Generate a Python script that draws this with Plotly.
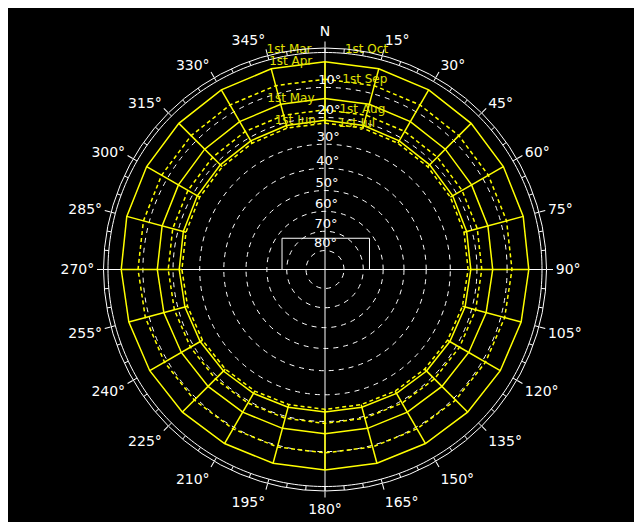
import numpy as np
import plotly.graph_objects as go

# ---------------- data ----------------
# hourly sun positions: azimuth (deg clockwise from N)
hour_az = [0, 15, 30, 45, 60, 75, 90, 105, 120, 135, 150, 165,
           180, 195, 210, 225, 240, 255, 270, 285, 300, 315, 330, 345]

# solar altitude (deg) on the 1st of each month at those azimuths
alt_apr = [2.5, 2.5, 2.6, 2.8, 3.0, 3.2, 3.6, 3.8, 4.0, 4.2, 4.4, 4.5,
           4.5, 4.5, 4.4, 4.2, 4.0, 3.8, 3.6, 3.2, 3.0, 2.8, 2.6, 2.5]
alt_may = [13.5, 13.5, 13.6, 13.8, 14.1, 14.3, 14.6, 14.9, 15.2, 15.4, 15.6, 15.7,
           15.8, 15.7, 15.6, 15.4, 15.2, 14.9, 14.6, 14.3, 14.1, 13.8, 13.6, 13.5]
alt_jun = [21.0, 21.0, 21.2, 21.4, 21.6, 21.9, 22.2, 22.5, 22.8, 23.0, 23.2, 23.4,
           23.4, 23.4, 23.2, 23.0, 22.8, 22.5, 22.2, 21.9, 21.6, 21.4, 21.2, 21.0]
alt_jul = [22.0, 22.0, 22.2, 22.4, 22.6, 22.9, 23.2, 23.5, 23.8, 24.0, 24.2, 24.4,
           24.4, 24.4, 24.2, 24.0, 23.8, 23.5, 23.2, 22.9, 22.6, 22.4, 22.2, 22.0]
alt_aug = [17.3, 17.3, 17.4, 17.6, 17.8, 18.0, 18.3, 18.6, 18.8, 19.0, 19.2, 19.3,
           19.3, 19.3, 19.2, 19.0, 18.8, 18.6, 18.3, 18.0, 17.8, 17.6, 17.4, 17.3]
alt_sep = [7.5, 7.5, 7.6, 7.8, 8.0, 8.2, 8.5, 8.8, 9.0, 9.2, 9.4, 9.5,
           9.6, 9.5, 9.4, 9.2, 9.0, 8.8, 8.5, 8.2, 8.0, 7.8, 7.6, 7.5]

date_names = ["1st Apr", "1st May", "1st Jun", "1st Jul", "1st Aug", "1st Sep"]
below_horizon_names = ["1st Mar", "1st Oct"]

# altitude rings and labels
ring_alts = [10, 20, 30, 40, 50, 60, 70, 80]
ring_labels = ["10°", "20°", "30°", "40°", "50°", "60°", "70°", "80°"]

# azimuth scale
az_ticks = list(range(0, 360, 15))
az_labels = ["N"] + [f"{a}°" for a in range(15, 360, 15)]
az_minor = list(range(0, 360, 5))

# site outline (plan coordinates, horizon radius = 1)
site_x = [-0.198, -0.198, 0.205, 0.205]
site_y = [0.0, 0.144, 0.144, 0.0]

# ---------------- helpers ----------------
def proj(alt):
    """stereographic projection: altitude -> radius (horizon = 1)"""
    return np.tan(np.radians((90 - np.asarray(alt, dtype=float)) / 2))

R_OUT = 1.0207
YEL = "#ffff00"
YEL_TXT = "#e0e000"
WHITE = "#ffffff"
FONT = "DejaVu Sans, Arial, sans-serif"

fig = go.Figure()

# outer double ring: inner circle (horizon) + minor ticks
th = np.linspace(0, 360, 361)
fig.add_trace(go.Scatterpolar(r=np.ones_like(th), theta=th, mode="lines",
                              line=dict(color=WHITE, width=1), hoverinfo="skip"))
tr, tt = [], []
for a in az_minor:
    tr += [1.0, R_OUT, None]
    tt += [a, a, None]
fig.add_trace(go.Scatterpolar(r=tr, theta=tt, mode="lines",
                              line=dict(color=WHITE, width=1), hoverinfo="skip"))

# N-S and E-W axes
fig.add_trace(go.Scatterpolar(r=[1.05, 0, 1.08], theta=[0, 0, 180], mode="lines",
                              line=dict(color=WHITE, width=1), cliponaxis=False,
                              hoverinfo="skip"))
fig.add_trace(go.Scatterpolar(r=[1.065, 0, 1.065], theta=[270, 270, 90], mode="lines",
                              line=dict(color=WHITE, width=1), cliponaxis=False,
                              hoverinfo="skip"))

# site outline
sx = np.array(site_x); sy = np.array(site_y)
fig.add_trace(go.Scatterpolar(r=np.hypot(sx, sy),
                              theta=np.degrees(np.arctan2(sx, sy)) % 360,
                              mode="lines", line=dict(color=WHITE, width=1),
                              hoverinfo="skip"))

# date lines
date_alts = [alt_apr, alt_may, alt_jun, alt_jul, alt_aug, alt_sep]
dashes = ["solid", "solid", "solid", "4px,3px", "4px,3px", "4px,3px"]
for alts, dsh in zip(date_alts, dashes):
    fig.add_trace(go.Scatterpolar(r=proj(alts + alts[:1]), theta=hour_az + hour_az[:1],
                                  mode="lines", line=dict(color=YEL, width=1.5, dash=dsh),
                                  hoverinfo="skip"))

# hour lines
hr, ht = [], []
for i, a in enumerate(hour_az):
    hr += [proj(alt_apr[i]), proj(alt_jul[i]), None]
    ht += [a, a, None]
fig.add_trace(go.Scatterpolar(r=hr, theta=ht, mode="lines",
                              line=dict(color=YEL, width=1.5), hoverinfo="skip"))

# altitude ring labels
fig.add_trace(go.Scatterpolar(r=proj(ring_alts), theta=[1.5] * len(ring_alts),
                              mode="text", text=ring_labels, textposition="top center",
                              textfont=dict(color=WHITE, size=13, family=FONT),
                              hoverinfo="skip"))

# date labels on the north meridian
first_half = [0, 1, 2]
second_half = [3, 4, 5]
lab_r = [proj(date_alts[i][0]) for i in first_half] + [1.015]
lab_t = [date_names[i] for i in first_half] + [below_horizon_names[0]]
fig.add_trace(go.Scatterpolar(r=lab_r, theta=[-3.5] * len(lab_r), mode="text",
                              text=lab_t, textposition="middle left",
                              textfont=dict(color=YEL_TXT, size=12, family=FONT),
                              cliponaxis=False, hoverinfo="skip"))
lab_r = [proj(date_alts[i][0]) for i in second_half] + [1.015]
lab_t = [date_names[i] for i in second_half] + [below_horizon_names[1]]
fig.add_trace(go.Scatterpolar(r=lab_r, theta=[5.2] * len(lab_r), mode="text",
                              text=lab_t, textposition="middle right",
                              textfont=dict(color=YEL_TXT, size=12, family=FONT),
                              cliponaxis=False, hoverinfo="skip"))

# page has an 8px body margin: figure sized/offset to compensate
OFF = 8
W, H = 629, 514
cx, cy, rad = 325 - OFF, 269.5 - OFF, 221.5
fig.update_layout(
    width=W, height=H, margin=dict(l=0, r=0, t=0, b=0),
    paper_bgcolor="black", showlegend=False,
    polar=dict(
        domain=dict(x=[(cx - rad) / W, (cx + rad) / W],
                    y=[(H - cy - rad) / H, (H - cy + rad) / H]),
        bgcolor="black",
        angularaxis=dict(rotation=90, direction="clockwise",
                         tickmode="array", tickvals=az_ticks, ticktext=az_labels,
                         ticks="outside", ticklen=6, tickcolor=WHITE,
                         showline=True, linecolor=WHITE, linewidth=1,
                         showgrid=False,
                         tickfont=dict(color=WHITE, size=14, family=FONT)),
        radialaxis=dict(range=[0, R_OUT], tickmode="array",
                        tickvals=proj(ring_alts).tolist(),
                        showticklabels=False, ticks="", showline=False,
                        showgrid=True, gridcolor=WHITE, gridwidth=1,
                        griddash="5px,5px"),
    ),
)

fig.write_html("out.html")
